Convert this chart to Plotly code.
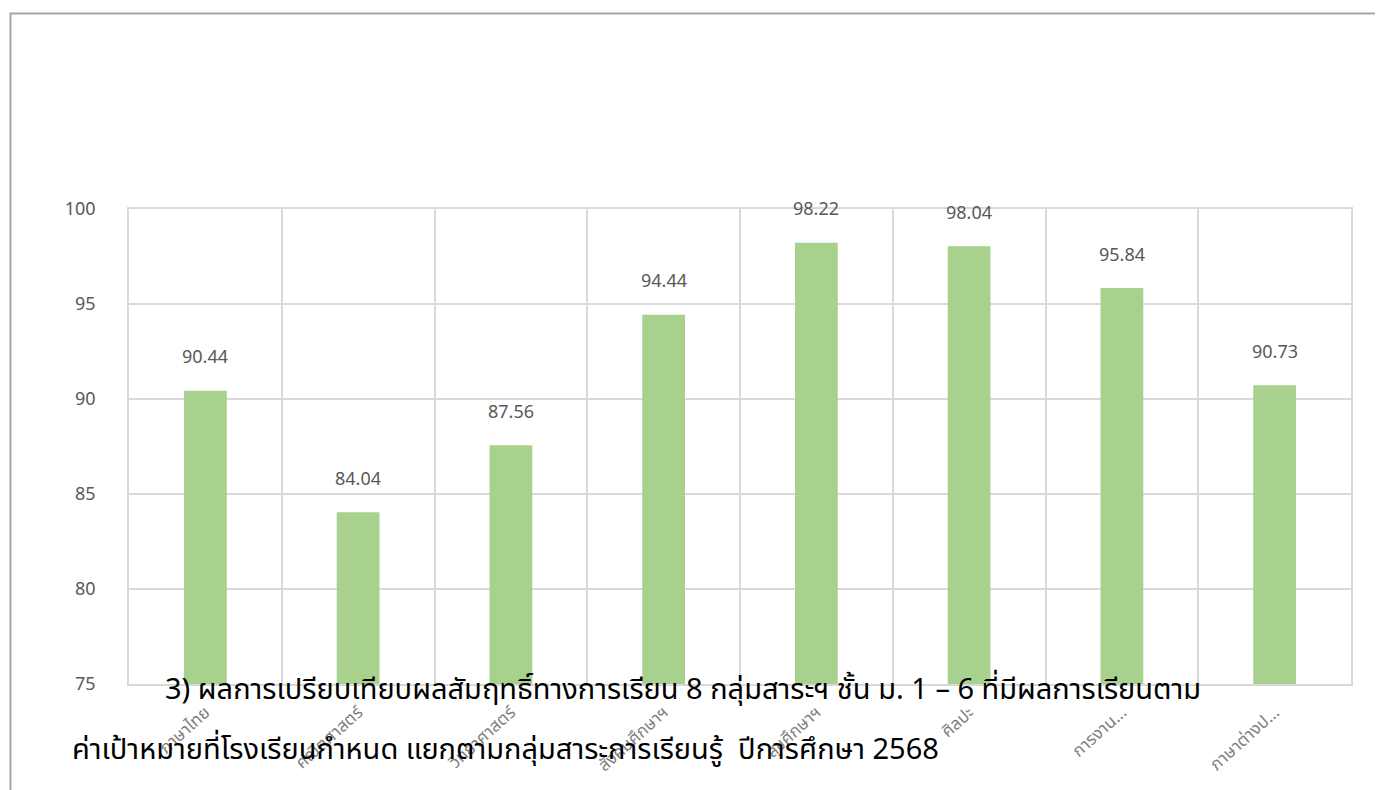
import plotly.graph_objects as go

categories = ["ภาษาไทย", "คณิตศาสตร์", "วิทยาศาสตร์", "สังคมศึกษาฯ",
              "สุขศึกษาฯ", "ศิลปะ", "การงาน...", "ภาษาต่างป..."]
values = [90.44, 84.04, 87.56, 94.44, 98.22, 98.04, 95.84, 90.73]
y_ticks = [75, 80, 85, 90, 95, 100]
title_line1 = "3) ผลการเปรียบเทียบผลสัมฤทธิ์ทางการเรียน 8 กลุ่มสาระฯ ชั้น ม. 1 – 6 ที่มีผลการเรียนตาม"
title_line2 = "ค่าเป้าหมายที่โรงเรียนกำหนด แยกตามกลุ่มสาระการเรียนรู้  ปีการศึกษา 2568"

OFF = 8  # page body margin
W, H = 1383 - OFF, 790 - OFF
L, R, T, B = 129 - OFF, 32, 209 - OFF, 106
pw, ph = W - L - R, H - T - B

def px(x):
    return (x - OFF - L) / pw

def py(y):
    return (H + OFF - B - y) / ph

FONT = "Noto Sans Thai, Noto Sans, Liberation Sans, sans-serif"
GRAY = "#595959"

fig = go.Figure()
fig.add_trace(go.Bar(
    x=categories, y=values, width=0.28,
    marker=dict(color="#A9D18E", line=dict(width=0)),
    hoverinfo="x+y",
))

for c, v in zip(categories, values):
    fig.add_annotation(x=c, y=v, text=f"{v:.2f}", showarrow=False,
                       yshift=33, font=dict(size=18, color=GRAY, family=FONT))

fig.add_annotation(xref="paper", yref="paper", x=px(163), y=py(690),
                   xanchor="left", yanchor="middle", text=title_line1,
                   showarrow=False, font=dict(size=29, color="#000000", family=FONT))
fig.add_annotation(xref="paper", yref="paper", x=px(70), y=py(750),
                   xanchor="left", yanchor="middle", text=title_line2,
                   showarrow=False, font=dict(size=29, color="#000000", family=FONT))

fig.add_shape(type="rect", xref="paper", yref="paper",
              x0=px(10.5), x1=px(1400), y0=py(810), y1=py(13.5),
              line=dict(color="#a6a6a6", width=2), fillcolor="rgba(0,0,0,0)")

fig.update_layout(
    width=W, height=H,
    margin=dict(l=L, r=R, t=T, b=B),
    plot_bgcolor="white", paper_bgcolor="white",
    showlegend=False,
    font=dict(family=FONT, color=GRAY),
    xaxis=dict(
        type="category", tickson="boundaries", showgrid=True,
        gridcolor="#d9d9d9", gridwidth=1.5, ticks="",
        showline=True, linecolor="#d9d9d9", linewidth=1.5, mirror=True,
        tickangle=-42, tickfont=dict(size=17, color="#7f7f7f"),
        ticklabelstandoff=10,
        range=[-0.5, 7.5],
    ),
    yaxis=dict(
        range=[75, 100], tickvals=y_ticks, showgrid=True,
        gridcolor="#d9d9d9", gridwidth=1.5, zeroline=False,
        showline=True, linecolor="#d9d9d9", linewidth=1.5, mirror=True,
        tickfont=dict(size=18, color=GRAY), ticks="",
        ticklabelstandoff=28,
    ),
)

fig.write_html("out.html")
